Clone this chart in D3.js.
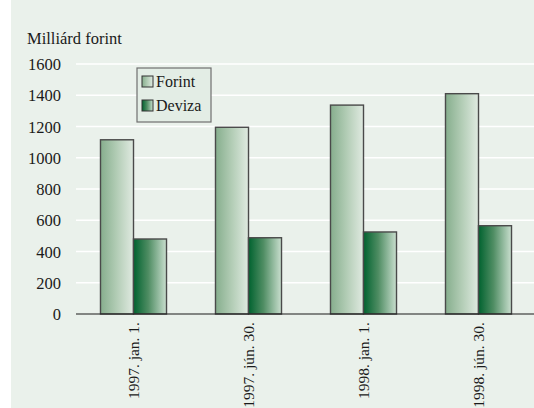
<!DOCTYPE html>
<html lang="hu">
  <head>
    <meta charset="utf-8">
    <title>Milliárd forint</title>
    <script src="https://d3js.org/d3.v7.min.js"></script>
    <style>
      body { margin: 0; background: #ffffff; }
      svg text { font-family: "Liberation Serif", "Times New Roman", serif; fill: #1a1a1a; }
    </style>
  </head>
  <body>
    <div id="chart"></div>
    <script>
    // data
    var dates = ["1997. jan. 1.", "1997. jún. 30.", "1998. jan. 1.", "1998. jún. 30."];
    var series = ["Forint", "Deviza"];
    var forint = [1115, 1195, 1337, 1410];
    var deviza = [480, 488, 525, 565];
    var yTicks = [0, 200, 400, 600, 800, 1000, 1200, 1400, 1600];

    var width = 534, height = 408;
    var margin = {top: 64, right: -2, bottom: 94, left: 76};

    var svg = d3.select("#chart").append("svg")
      .attr("width", width)
      .attr("height", height);

    // panel background
    svg.append("rect")
      .attr("x", 11).attr("y", 0)
      .attr("width", width - 11).attr("height", height)
      .attr("fill", "#eaf1eb");

    var defs = svg.append("defs");
    function grad(id, stops) {
      var g = defs.append("linearGradient").attr("id", id)
        .attr("x1", "0%").attr("x2", "100%").attr("y1", "0%").attr("y2", "0%");
      stops.forEach(function(s) {
        g.append("stop").attr("offset", s[0]).attr("stop-color", s[1]);
      });
    }
    grad("gForint", [["0%", "#86ae8d"], ["50%", "#b3cdb6"], ["100%", "#e0eae1"]]);
    grad("gDeviza", [["0%", "#00622f"], ["45%", "#4f8d63"], ["100%", "#cadfcf"]]);
    var fills = {Forint: "url(#gForint)", Deviza: "url(#gDeviza)"};

    var x0 = d3.scaleBand()
      .domain(dates)
      .range([margin.left, width - margin.right]);

    var x1 = d3.scaleBand()
      .domain(series)
      .range([0, x0.bandwidth()])
      .paddingOuter(0.742);

    var y = d3.scaleLinear()
      .domain([0, 1600])
      .range([height - margin.bottom, margin.top]);

    // white grid lines
    svg.append("g")
      .selectAll("line")
      .data(yTicks.filter(function(d){ return d > 0; }))
      .enter()
      .append("line")
        .attr("x1", margin.left)
        .attr("x2", width)
        .attr("y1", function(d){ return y(d); })
        .attr("y2", function(d){ return y(d); })
        .attr("stroke", "#ffffff")
        .attr("stroke-width", 1.6);

    // y axis labels
    var yAxis = svg.append("g")
      .attr("transform", "translate(" + (margin.left - 15) + ",0)")
      .call(d3.axisLeft(y).tickValues(yTicks).tickFormat(d3.format("d")).tickSize(0).tickPadding(0));
    yAxis.attr("font-family", null).attr("font-size", null);
    yAxis.select(".domain").remove();
    yAxis.selectAll("text")
      .attr("font-size", "16.5px")
      .attr("dy", "0.34em");

    svg.append("text")
      .attr("x", 27)
      .attr("y", 44)
      .attr("font-size", "16.5px")
      .text("Milliárd forint");

    // bars
    var rows = dates.map(function(d, i) {
      return {date: d, values: [{key: "Forint", value: forint[i]}, {key: "Deviza", value: deviza[i]}]};
    });

    svg.append("g")
      .selectAll("g")
      .data(rows)
      .enter()
      .append("g")
        .attr("transform", function(d){ return "translate(" + x0(d.date) + ",0)"; })
      .selectAll("rect")
      .data(function(d){ return d.values; })
      .enter()
      .append("rect")
        .attr("x", function(d){ return x1(d.key); })
        .attr("y", function(d){ return y(d.value); })
        .attr("width", x1.bandwidth())
        .attr("height", function(d){ return y(0) - y(d.value); })
        .attr("fill", function(d){ return fills[d.key]; })
        .attr("stroke", "#4a4a4a")
        .attr("stroke-width", 1.4);

    // x axis
    svg.append("line")
      .attr("x1", margin.left)
      .attr("x2", width)
      .attr("y1", y(0))
      .attr("y2", y(0))
      .attr("stroke", "#1a1a1a")
      .attr("stroke-width", 1.2);

    svg.append("g")
      .selectAll("text")
      .data(dates)
      .enter()
      .append("text")
        .attr("transform", function(d){
          return "translate(" + (x0(d) + x0.bandwidth() / 2 + 5) + "," + (y(0) + 8) + ") rotate(-90)";
        })
        .attr("text-anchor", "end")
        .attr("font-size", "15.5px")
        .text(function(d){ return d; });

    // legend
    var legend = svg.append("g").attr("transform", "translate(137,68)");
    legend.append("rect")
      .attr("width", 74).attr("height", 54)
      .attr("fill", "#e3ede5")
      .attr("stroke", "#6f6f6f")
      .attr("stroke-width", 1.2);
    series.forEach(function(s, i) {
      legend.append("rect")
        .attr("x", 5).attr("y", 8 + i * 24)
        .attr("width", 11).attr("height", 11)
        .attr("fill", fills[s])
        .attr("stroke", "#333")
        .attr("stroke-width", 1);
      legend.append("text")
        .attr("x", 19).attr("y", 19 + i * 24)
        .attr("font-size", "16px")
        .text(s);
    });
    </script>
  </body>
</html>
